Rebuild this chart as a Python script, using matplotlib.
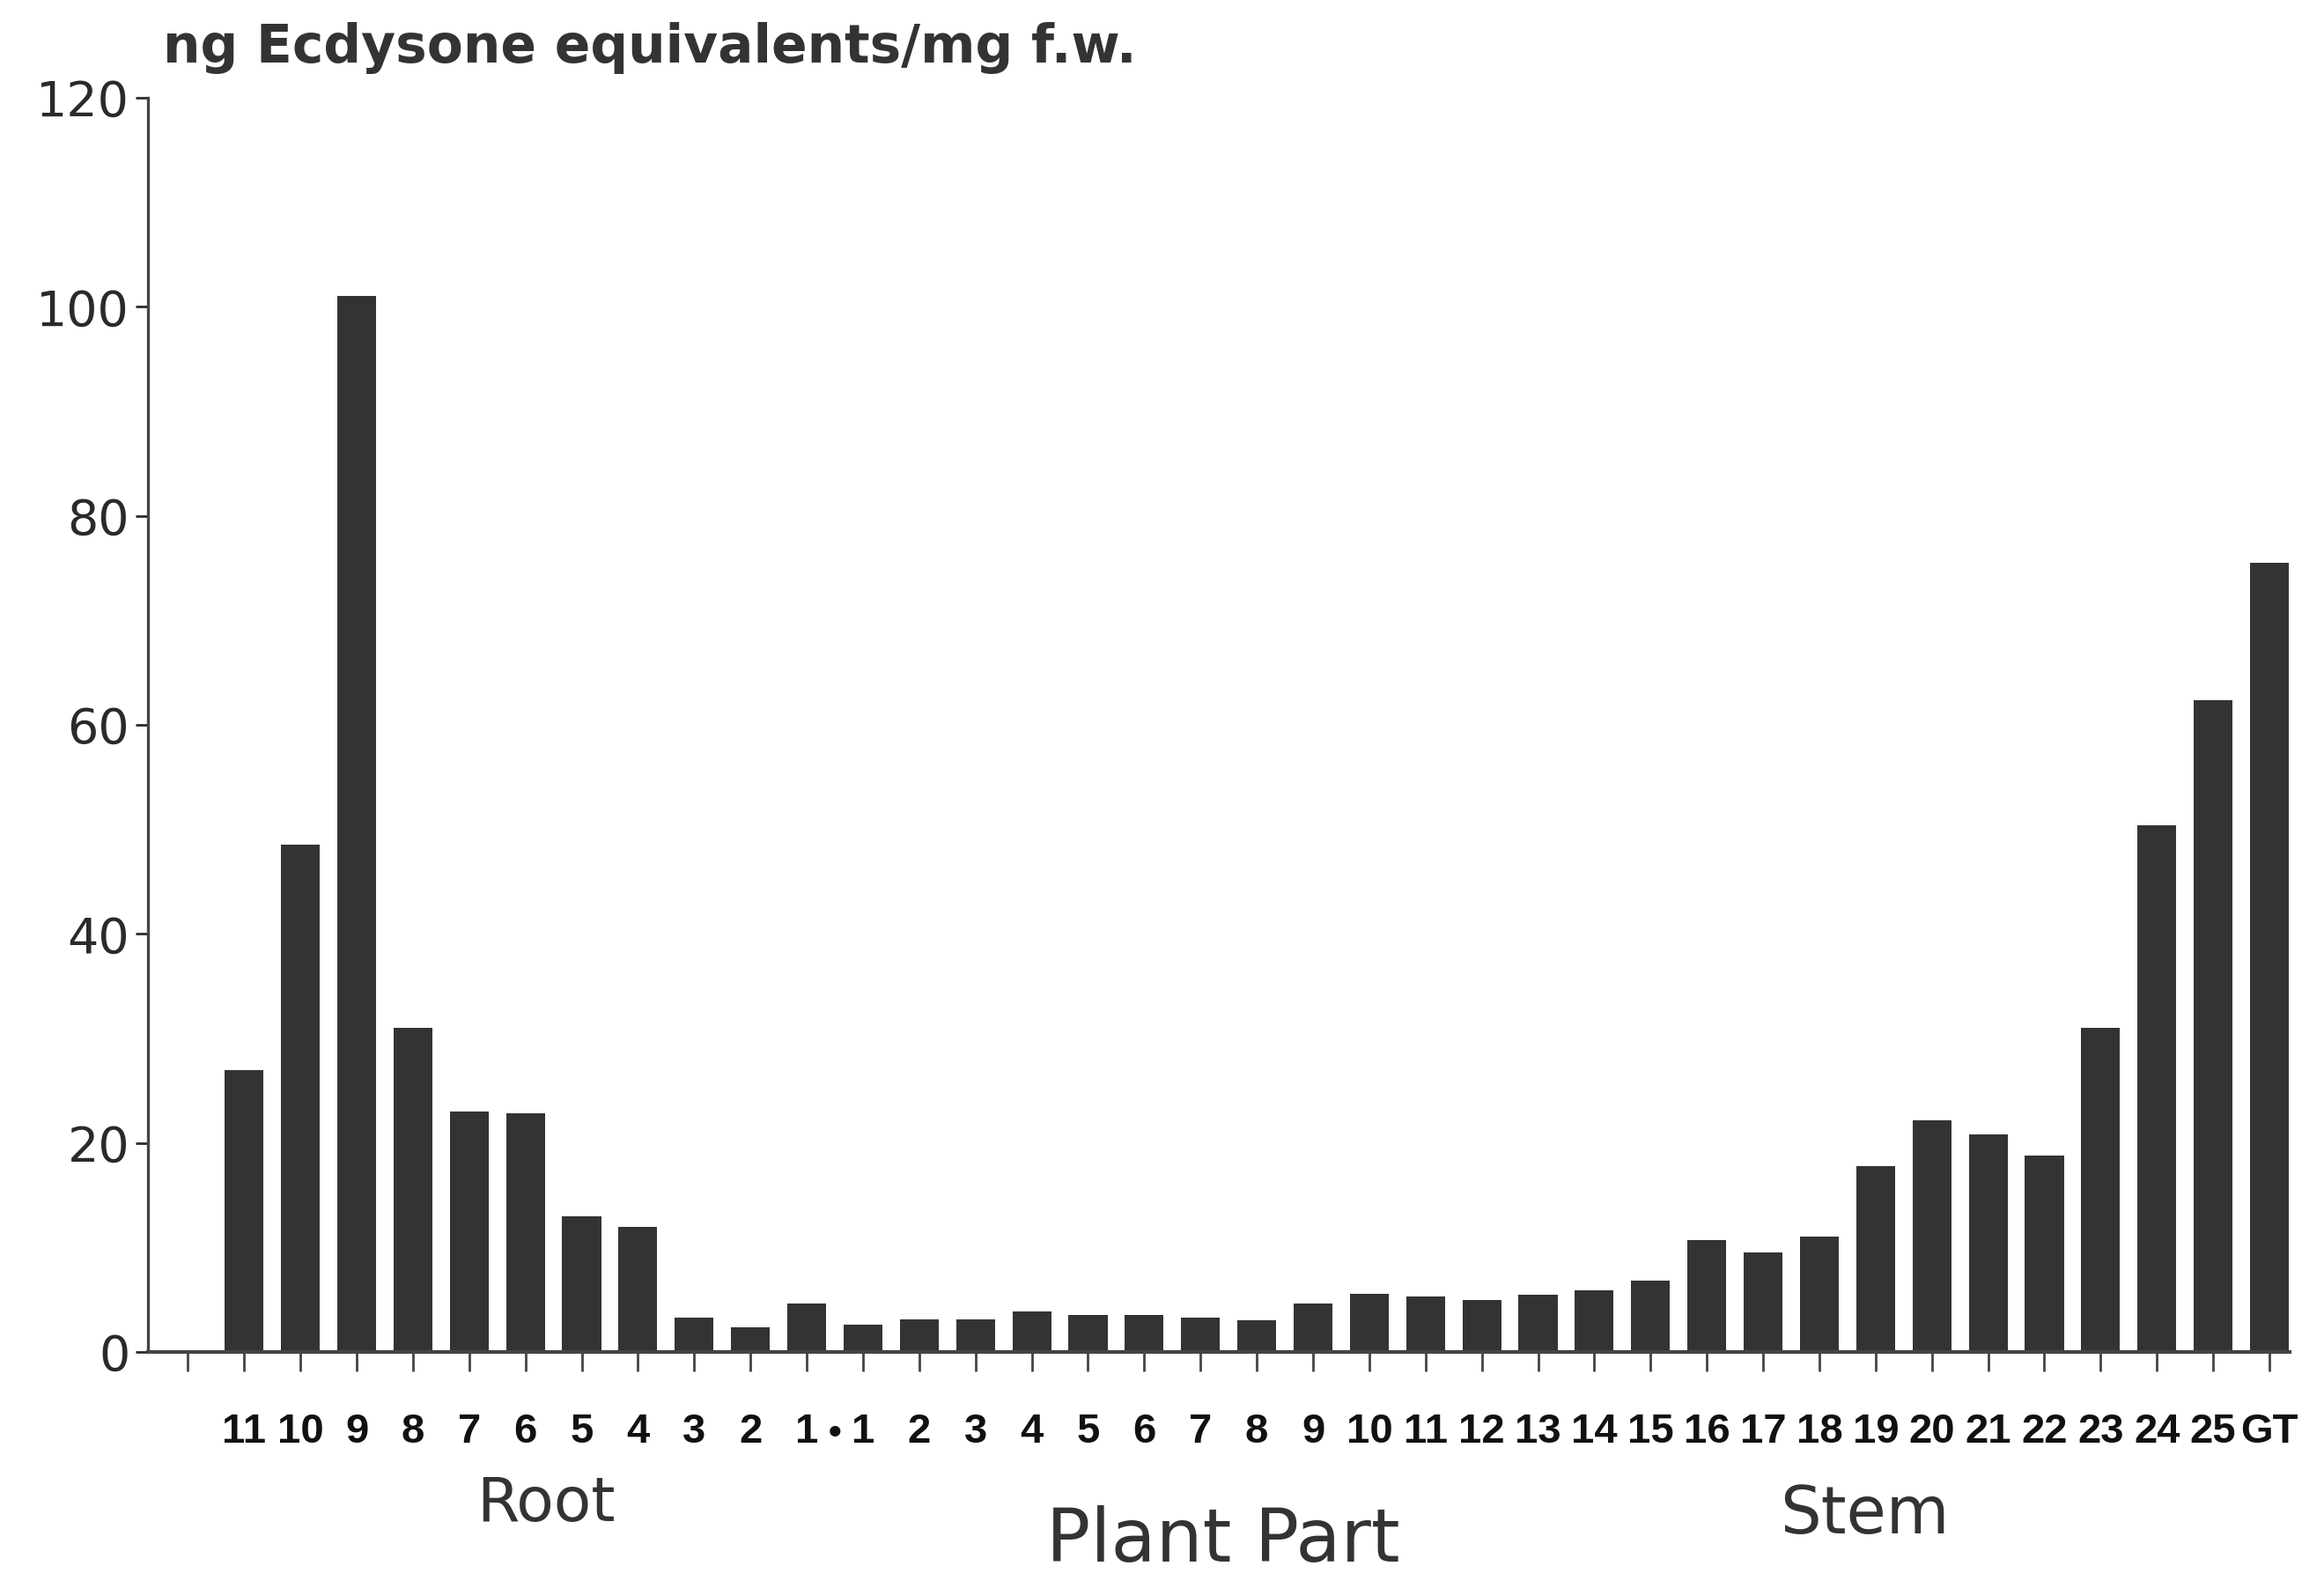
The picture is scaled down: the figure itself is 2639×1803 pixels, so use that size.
import matplotlib
matplotlib.use("Agg")
import matplotlib.pyplot as plt
from matplotlib.transforms import blended_transform_factory

# ---- data ----
root_labels = ['11', '10', '9', '8', '7', '6', '5', '4', '3', '2', '1']
root_values = [27.0, 48.5, 101.0, 31.0, 23.0, 22.8, 13.0, 12.0, 3.3, 2.4, 4.6]
stem_labels = [str(i) for i in range(1, 26)] + ['GT']
stem_values = [2.6, 3.1, 3.1, 3.9, 3.5, 3.5, 3.3, 3.0, 4.6, 5.6,
               5.3, 5.0, 5.5, 5.9, 6.8, 10.7, 9.5, 11.0, 17.8, 22.2,
               20.8, 18.8, 31.0, 50.4, 62.4, 75.5]
y_ticks = [0, 20, 40, 60, 80, 100, 120]
y_title = "ng Ecdysone equivalents/mg f.w."
x_title = "Plant Part"

labels = root_labels + stem_labels
values = root_values + stem_values
pos = list(range(len(values)))

W, H = 2639, 1803
fig = plt.figure(figsize=(W / 100, H / 100), dpi=100)
ax = fig.add_axes([168 / W, (H - 1535) / H, (2600 - 168) / W, (1535 - 111) / H])

bar_color = '#333333'
ax.bar(pos, values, width=0.69, color=bar_color, edgecolor=bar_color, linewidth=0)

ax.set_xlim(-1.71, 36.36)
ax.set_ylim(0, 120)

for s in ['top', 'right']:
    ax.spines[s].set_visible(False)
ax.spines['left'].set_linewidth(2.4)
ax.spines['left'].set_color('#444444')
ax.spines['bottom'].set_linewidth(3.0)
ax.spines['bottom'].set_color('#444444')

ax.set_yticks(y_ticks)
ax.set_yticklabels([str(t) for t in y_ticks], family=['DejaVu Sans'],
                   fontsize=40, color='#2a2a2a')
ax.tick_params(axis='y', direction='out', length=10, width=2, pad=5, colors='#2a2a2a')

ax.set_xticks([-1] + pos)
ax.set_xticklabels([''] + labels, family=['Liberation Sans', 'DejaVu Sans'],
                   fontweight='bold', fontsize=34, color='#111111')
ax.tick_params(axis='x', direction='out', length=16, width=2, pad=34, colors='#444444',
               labelcolor='#111111')

trans = blended_transform_factory(ax.transData, fig.transFigure)
ax.text(10.5, (H - 1629) / H, '\u2022', transform=trans, ha='center', va='center',
        fontsize=30, color='#111111', family=['DejaVu Sans'])

ax.text(5.37, (H - 1707) / H, 'Root', transform=trans, ha='center', va='center',
        fontsize=50, color='#333333', family=['DejaVu Sans'])
ax.text(17.4, (H - 1750) / H, x_title, transform=trans, ha='center', va='center',
        fontsize=60, color='#333333', family=['DejaVu Sans'])
ax.text(28.8, (H - 1720) / H, 'Stem', transform=trans, ha='center', va='center',
        fontsize=53, color='#333333', family=['DejaVu Sans'])

fig.text(185 / W, (H - 54) / H, y_title, ha='left', va='center',
         fontsize=43, fontweight='bold', color='#333333', family=['DejaVu Sans'])

fig.savefig('out.png', dpi=100, facecolor='white')
